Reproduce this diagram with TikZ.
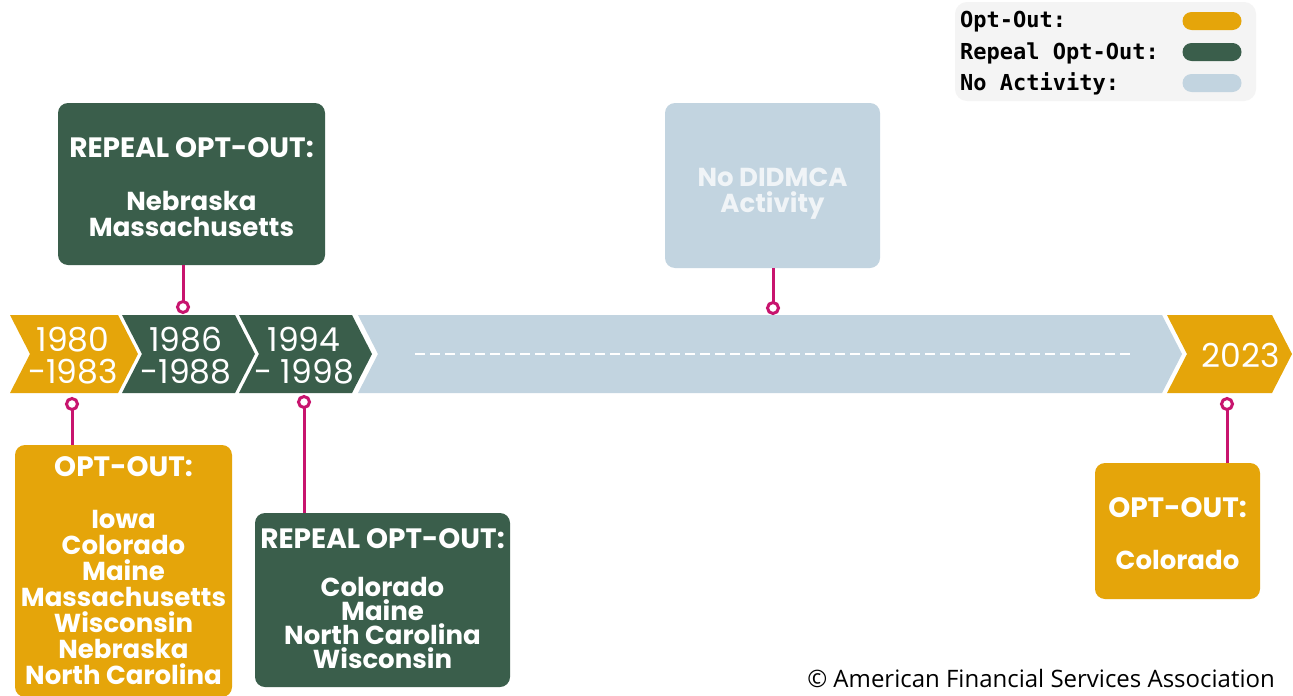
\documentclass[tikz,border=0pt]{standalone}
\usepackage{fontspec}
\setmainfont{Poppins}
\newfontfamily\legfont{DejaVu Sans Mono}
\newfontfamily\yrfont{Poppins}
\newfontfamily\cpfont{Open Sans}
\definecolor{gold}{HTML}{E5A50A}
\definecolor{dgreen}{HTML}{3A5E4B}
\definecolor{lblue}{HTML}{C2D4E0}
\definecolor{pinc}{HTML}{C8146E}
\definecolor{legbg}{HTML}{F4F4F4}
\definecolor{paletxt}{HTML}{F0F4F7}
\newcommand\chev[3]{\fill[#3] (#1,315) -- (#2,315) -- (#2+20,354) -- (#2,393) -- (#1,393) -- (#1+20,354) -- cycle;}
\newcommand\hd[1]{{\fontsize{28}{26}\selectfont #1}}
\begin{document}
\begin{tikzpicture}[x=1pt,y=-1pt,
  infobox/.style={rounded corners=10pt, inner sep=0pt},
  boxtext/.style={align=center, text=white, inner sep=0pt,
    font=\fontsize{26}{26}\selectfont\bfseries},
  yrtext/.style={align=center, text=white, inner sep=0pt, font=\yrfont\fontsize{33}{32}\selectfont},
  pinline/.style={draw=pinc, line width=3pt},
  pincirc/.style={circle, draw=pinc, line width=3pt, fill=white, minimum size=11pt, inner sep=0pt},
  legtext/.style={anchor=west, inner sep=0pt, font=\legfont\bfseries\fontsize{22}{22}\selectfont},
  pill/.style={rounded corners=9pt, minimum width=59pt, minimum height=18pt, inner sep=0pt}]
\useasboundingbox (0,0) rectangle (1293,696);
\fill[white] (0,0) rectangle (1293,696);
% legend
\fill[legbg, rounded corners=12pt] (955,2) rectangle (1256,101);
\node[legtext] (l1) at (960,22) {Opt-Out:};
\node[legtext] (l2) at (960,53) {Repeal Opt-Out:};
\node[legtext] (l3) at (960,84) {No Activity:};
\node[pill, fill=gold] (k1) at (1212,21) {};
\node[pill, fill=dgreen] (k2) at (1212,52) {};
\node[pill, fill=lblue] (k3) at (1212,83) {};
% chevrons
\chev{10}{118}{gold}
\chev{122}{235}{dgreen}
\chev{239}{352}{dgreen}
\chev{358}{1162}{lblue}
\chev{1167}{1272}{gold}
\draw[white, line width=2pt, dash pattern=on 10pt off 5pt] (415,354) -- (1130,354);
\node[yrtext] (y1) at (73,356) {1980\\-1983};
\node[yrtext] (y2) at (186,356) {1986\\-1988};
\node[yrtext] (y3) at (304,356) {1994\\- 1998};
\node[yrtext] (y4) at (1241,355) {2023};
% boxes
\node[infobox, fill=dgreen, minimum width=267pt, minimum height=162pt] (b1) at (191.5,184) {};
\node[boxtext] (t1) at ([yshift=-3pt]b1.center)
  {\hd{REPEAL OPT-OUT:}\\[27pt]Nebraska\\Massachusetts};
\node[infobox, fill=lblue, minimum width=215pt, minimum height=165pt] (b2) at (772.5,185.5) {};
\node[boxtext, text=paletxt] (t2) at ([yshift=-8pt]b2.center) {No DIDMCA\\Activity};
\node[infobox, fill=gold, minimum width=217pt, minimum height=252pt] (b3) at (123.5,571) {};
\node[boxtext] (t3) at (b3.center)
  {\hd{OPT-OUT:}\\[26pt]Iowa\\Colorado\\Maine\\Massachusetts\\Wisconsin\\Nebraska\\North Carolina};
\node[infobox, fill=dgreen, minimum width=255pt, minimum height=174pt] (b4) at (382.5,600) {};
\node[boxtext, font=\fontsize{26}{24}\selectfont\bfseries] (t4) at ([yshift=1.5pt]b4.center)
  {\hd{REPEAL OPT-OUT:}\\[24pt]Colorado\\Maine\\North Carolina\\Wisconsin};
\node[infobox, fill=gold, minimum width=165pt, minimum height=136pt] (b5) at (1177.5,531) {};
\node[boxtext] (t5) at ([yshift=-3pt]b5.center) {\hd{OPT-OUT:}\\[26pt]Colorado};
% pins
\coordinate (c1) at (183,307);
\coordinate (c2) at (773,308);
\coordinate (c3) at (72,404);
\coordinate (c4) at (304,402);
\coordinate (c5) at (1227,404);
\draw[pinline] (b1.south -| c1) -- (c1);
\draw[pinline] (b2.south -| c2) -- (c2);
\draw[pinline] (b3.north -| c3) -- (c3);
\draw[pinline] (b4.north -| c4) -- (c4);
\draw[pinline] (b5.north -| c5) -- (c5);
\node[pincirc] (p1) at (c1) {};
\node[pincirc] (p2) at (c2) {};
\node[pincirc] (p3) at (c3) {};
\node[pincirc] (p4) at (c4) {};
\node[pincirc] (p5) at (c5) {};
% copyright
\node[anchor=east, inner sep=0pt, font=\cpfont\fontsize{24}{24}\selectfont] (cp) at (1275,678)
  {© American Financial Services Association};
\end{tikzpicture}
\end{document}
